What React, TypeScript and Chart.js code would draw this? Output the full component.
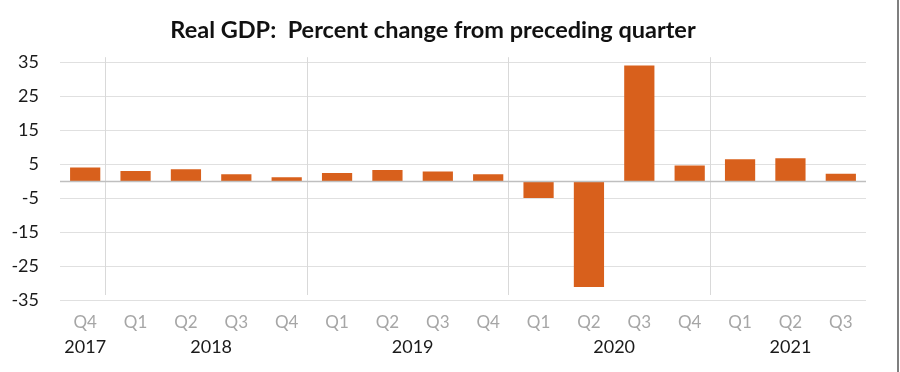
import React, { useEffect, useRef } from "react";
import { Chart, registerables } from "chart.js";

Chart.register(...registerables);

const quarters = ["Q4", "Q1", "Q2", "Q3", "Q4", "Q1", "Q2", "Q3", "Q4", "Q1", "Q2", "Q3", "Q4", "Q1", "Q2", "Q3"];
const years = ["2017", "2018", "2019", "2020", "2021"];
const yearStart = [0, 1, 5, 9, 13];
const yearEnd = [0, 4, 8, 12, 15];
const gdpChange = [4.0, 3.0, 3.5, 2.0, 1.1, 2.4, 3.3, 2.8, 2.0, -5.0, -31.2, 34.0, 4.6, 6.4, 6.7, 2.2];
const yTicks = [-35, -25, -15, -5, 5, 15, 25, 35];

const FONT = "Lato, 'Open Sans', sans-serif";

const decorPlugin = {
  id: "decor",
  beforeDatasetsDraw(chart: any) {
    const { ctx, chartArea, scales } = chart;
    const x = scales.x;
    ctx.save();
    // year separators
    ctx.strokeStyle = "#d9d9d9";
    ctx.lineWidth = 1;
    for (let k = 1; k < yearStart.length; k++) {
      const i = yearStart[k];
      const px = Math.round((x.getPixelForValue(i - 1) + x.getPixelForValue(i)) / 2) - 4.5;
      ctx.beginPath();
      ctx.moveTo(px, chartArea.top - 5);
      ctx.lineTo(px, chartArea.bottom - 5);
      ctx.stroke();
    }
    ctx.restore();
  },
  afterDatasetsDraw(chart: any) {
    const { ctx, chartArea, scales } = chart;
    const y = scales.y;
    const x = scales.x;
    ctx.save();
    // zero line
    const y0 = Math.round(y.getPixelForValue(0)) + 0.5;
    ctx.strokeStyle = "#bfbfbf";
    ctx.lineWidth = 1.5;
    ctx.beginPath();
    ctx.moveTo(chartArea.left, y0);
    ctx.lineTo(chartArea.right, y0);
    ctx.stroke();
    // year labels
    ctx.fillStyle = "#1a1a1a";
    ctx.font = "18px " + FONT;
    ctx.textAlign = "center";
    ctx.textBaseline = "middle";
    for (let k = 0; k < years.length; k++) {
      const cx = (x.getPixelForValue(yearStart[k]) + x.getPixelForValue(yearEnd[k])) / 2;
      ctx.fillText(years[k], cx, 347);
    }
    ctx.restore();
  },
};

export default function App() {
  const ref = useRef<HTMLCanvasElement>(null);
  useEffect(() => {
    document.body.style.margin = "0";
    const chart = new Chart(ref.current!, {
      type: "bar",
      data: {
        labels: quarters,
        datasets: [
          {
            data: gdpChange,
            backgroundColor: "#D8601C",
            borderWidth: 0,
            barPercentage: 0.6,
            categoryPercentage: 1,
          },
        ],
      },
      options: {
        responsive: false,
        animation: false,
        layout: { padding: { left: 0, right: 34, top: 0, bottom: 0 } },
        plugins: {
          legend: { display: false },
          tooltip: { enabled: false },
          title: {
            display: true,
            text: "Real GDP:  Percent change from preceding quarter",
            color: "#111",
            font: { family: FONT, size: 23.5, weight: "bold" },
            padding: { top: 16, bottom: 18 },
          },
        },
        scales: {
          x: {
            grid: { display: false, drawTicks: false },
            border: { display: false },
            ticks: {
              color: "#a6a6a6",
              font: { family: FONT, size: 17 },
              padding: 12,
              maxRotation: 0,
              autoSkip: false,
            },
            afterFit: (s: any) => {
              s.height = 72;
            },
          },
          y: {
            min: -35,
            max: 35,
            afterBuildTicks: (s: any) => {
              s.ticks = yTicks.map((v) => ({ value: v }));
            },
            grid: { color: "#e0e0e0", lineWidth: 1, drawTicks: false },
            border: { display: false },
            ticks: {
              color: "#1a1a1a",
              font: { family: FONT, size: 18 },
              padding: 21,
            },
            afterFit: (s: any) => {
              s.width = 60;
            },
          },
        },
      },
      plugins: [decorPlugin],
    });
    return () => chart.destroy();
  }, []);
  return (
    <div style={{ width: 900, height: 372, position: "relative", background: "#fff" }}>
      <canvas ref={ref} width={900} height={372} style={{ display: "block" }} />
      <div style={{ position: "absolute", right: 1, top: 0, width: 2, height: 372, background: "#7f7f7f" }} />
    </div>
  );
}
